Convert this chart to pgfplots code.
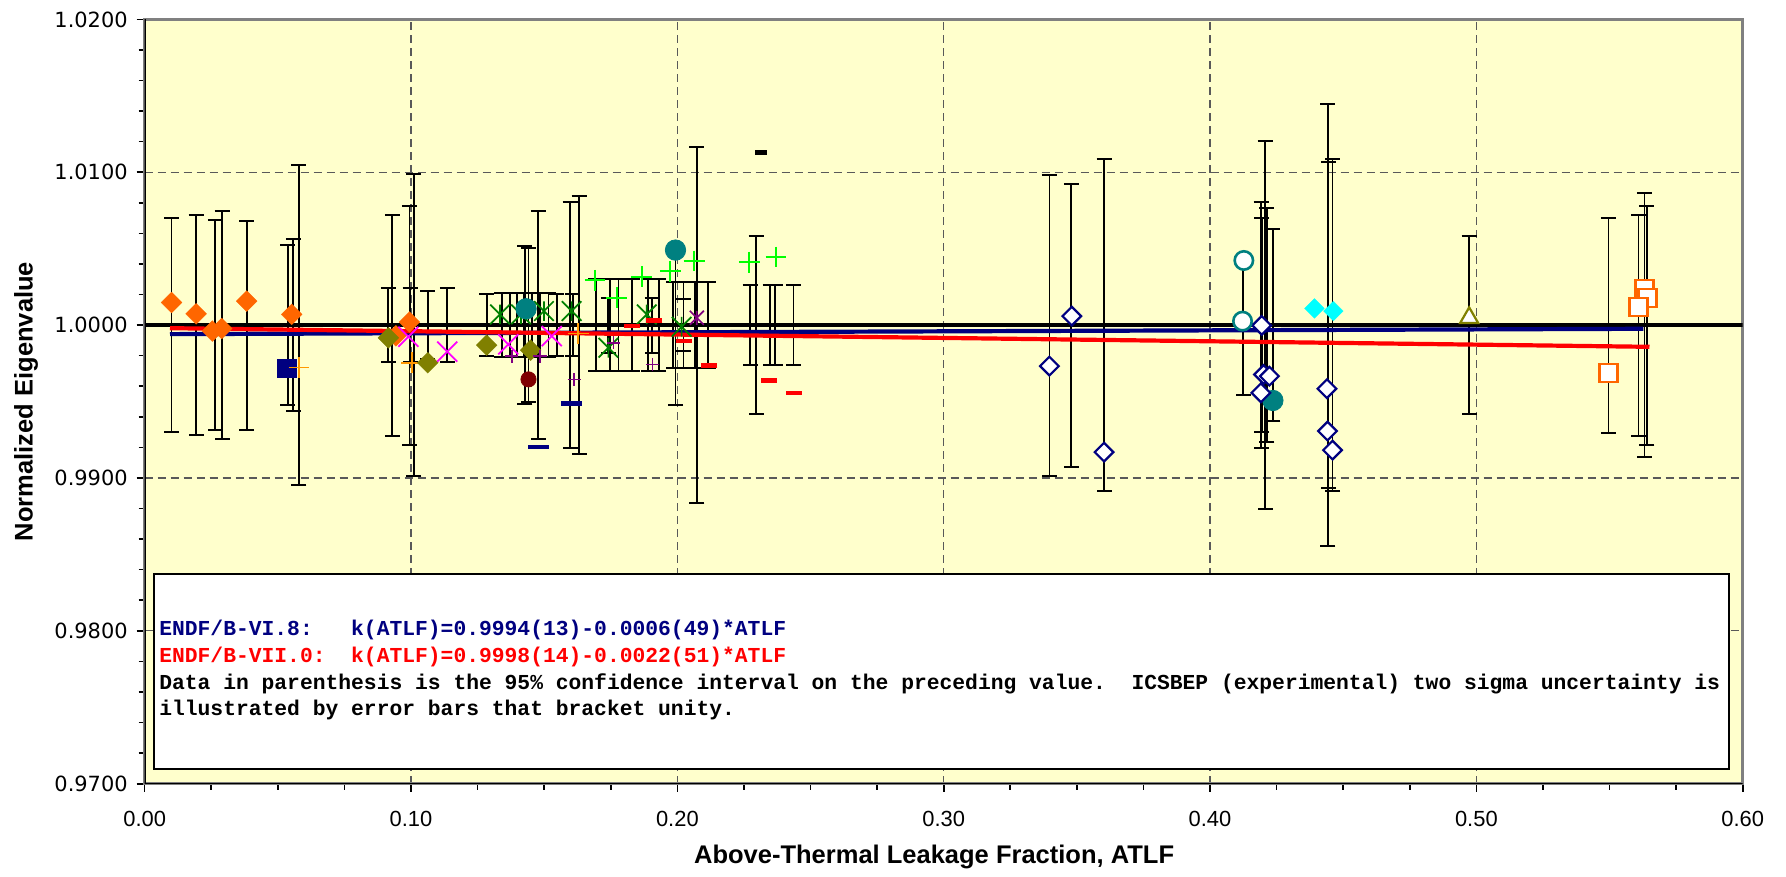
\documentclass[border=0pt]{standalone}
\usepackage{pgfplots}
\pgfplotsset{compat=1.18}
\usepackage{pgfplotstable}
\usepackage{fontspec}
\setmainfont{Liberation Sans}
\newfontfamily\dejavu{DejaVu Sans}
\newfontfamily\mono{Liberation Mono}

\definecolor{bgy}{RGB}{255,255,204}
\definecolor{navyc}{RGB}{0,0,128}
\definecolor{orangeA}{RGB}{255,102,0}
\definecolor{orangeB}{RGB}{255,153,0}
\definecolor{oliveC}{RGB}{128,128,0}
\definecolor{tealC}{RGB}{0,128,128}
\definecolor{maroonC}{RGB}{128,0,0}
\definecolor{greenC}{RGB}{0,128,0}
\definecolor{purpleC}{RGB}{128,0,128}
\definecolor{limeC}{RGB}{0,255,0}
\definecolor{cyanC}{RGB}{0,255,255}
\definecolor{magC}{RGB}{255,0,255}
\definecolor{redC}{RGB}{255,0,0}

\pgfdeclareplotmark{xast}{%
  \pgfpathmoveto{\pgfqpoint{-\pgfplotmarksize}{-\pgfplotmarksize}}%
  \pgfpathlineto{\pgfqpoint{\pgfplotmarksize}{\pgfplotmarksize}}%
  \pgfpathmoveto{\pgfqpoint{-\pgfplotmarksize}{\pgfplotmarksize}}%
  \pgfpathlineto{\pgfqpoint{\pgfplotmarksize}{-\pgfplotmarksize}}%
  \pgfpathmoveto{\pgfqpoint{0pt}{-\pgfplotmarksize}}%
  \pgfpathlineto{\pgfqpoint{0pt}{\pgfplotmarksize}}%
  \pgfusepathqstroke}
\pgfdeclareplotmark{xfull}{%
  \pgfpathmoveto{\pgfqpoint{-\pgfplotmarksize}{-\pgfplotmarksize}}%
  \pgfpathlineto{\pgfqpoint{\pgfplotmarksize}{\pgfplotmarksize}}%
  \pgfpathmoveto{\pgfqpoint{-\pgfplotmarksize}{\pgfplotmarksize}}%
  \pgfpathlineto{\pgfqpoint{\pgfplotmarksize}{-\pgfplotmarksize}}%
  \pgfusepathqstroke}

\pgfplotstableread{
x y e
0.0101 1 0.00700
0.0193 1 0.00722
0.0265 1 0.00685
0.0291 1 0.00745
0.0383 1 0.00684
0.0537 1 0.00523
0.0558 1 0.00564
0.0579 1 0.01045
0.0915 1 0.00240
0.0930 1 0.00723
0.0994 1 0.00782
0.0997 1 0.00240
0.1011 1 0.00987
0.1063 1 0.00220
0.1136 1 0.00240
0.1284 1 0.00204
0.1341 1 0.00210
0.1372 1 0.00210
0.1397 1 0.00210
0.1422 1 0.00210
0.1427 1 0.00515
0.1441 1 0.00502
0.1453 1 0.00210
0.1478 1 0.00745
0.1484 1 0.00210
0.1516 1 0.00210
0.1547 1 0.00204
0.1597 1 0.00806
0.1607 1 0.00204
0.1631 1 0.00842
0.1693 1 0.00300
0.1741 1 0.00180
0.1748 1 0.00300
0.1779 1 0.00300
0.1831 1 0.00300
0.1890 1 0.00300
0.1905 1 0.00180
0.1930 1 0.00300
0.1985 1 0.00281
0.1993 1 0.00523
0.2023 1 0.00170
0.2023 1 0.00281
0.2066 1 0.00281
0.2073 1 0.01165
0.2116 1 0.00281
0.2273 1 0.00262
0.2296 1 0.00584
0.2348 1 0.00262
0.2367 1 0.00262
0.2436 1 0.00262
0.3397 1 0.00985
0.3479 1 0.00926
0.3602 1 0.01085
0.4125 1 0.00460
0.4192 1 0.00807
0.4194 1 0.00702
0.4207 1 0.01205
0.4213 1 0.00763
0.4236 1 0.00626
0.4442 1 0.01446
0.4445 1 0.01066
0.4460 1 0.01085
0.4973 1 0.00581
0.5496 1 0.00703
0.5609 1 0.00723
0.5631 1 0.00865
0.5640 1 0.00782
}\errtab

\begin{document}
\begin{tikzpicture}
\begin{axis}[
  width=799bp, height=382.15bp, scale only axis,
  xmin=0, xmax=0.6, ymin=0.97, ymax=1.02,
  xtick={0,0.1,0.2,0.3,0.4,0.5,0.6},
  ytick={0.97,0.98,0.99,1.0,1.01,1.02},
  minor x tick num=3, minor y tick num=4,
  tick align=outside, tick pos=left,
  major tick length=4bp, minor tick length=3bp,
  every tick/.style={black, line width=0.8bp},
  /pgf/number format/assume math mode=true,
  xticklabel style={font=\fontsize{11}{13}\selectfont, yshift=-6bp,
    /pgf/number format/.cd, fixed, fixed zerofill, precision=2},
  yticklabel style={font=\dejavu\fontsize{10.5}{12}\selectfont, xshift=-1bp,
    /pgf/number format/.cd, fixed, fixed zerofill, precision=4},
  grid=major,
  major grid style={dash pattern=on 4bp off 2.5bp, black!65, line width=0.6bp},
  axis background/.style={fill=bgy},
  axis line style={draw=black!50, line width=1.3bp},
  xlabel={Above-Thermal Leakage Fraction, ATLF},
  ylabel={Normalized Eigenvalue},
  xlabel style={font=\bfseries\fontsize{12.8}{14}\selectfont, at={(axis description cs:0.494,-0.0953)}, anchor=center},
  ylabel style={font=\bfseries\fontsize{12.8}{14}\selectfont, at={(axis description cs:-0.0743,0.5)}, anchor=center},
]
% error bars bracketing unity
\addplot[draw=none, mark=none,
  error bars/.cd, y dir=both, y explicit,
  error bar style={draw=black, solid, line width=0.9bp},
  error mark options={rotate=90, draw=black, solid, mark size=3.75bp, line width=1bp}]
  table[x=x, y=y, y error=e] {\errtab};

% reference and fit lines
\addplot[black, line width=2.1bp, no marks] coordinates {(0,1) (0.6,1)};
\addplot[navyc, line width=2.1bp, no marks] coordinates {(0.0095,0.99941) (0.5627,0.99976)};
\addplot[redC, line width=2.1bp, no marks] coordinates {(0.0095,0.99980) (0.5650,0.99858)};

% orange filled diamonds
\addplot[only marks, mark=square*, mark size=3.7bp, color=orangeA, mark options={rotate=45, line width=0.1bp}]
  coordinates {(0.0101,1.00148) (0.0193,1.00074) (0.0254,0.99961) (0.0289,0.99978) (0.0383,1.00157) (0.0552,1.00070) (0.0943,0.99930) (0.0994,1.00020)};
% navy filled square
\addplot[only marks, mark=square*, mark size=4.6bp, color=navyc] coordinates {(0.0534,0.99717)};
% orange plus
\addplot[only marks, mark=+, mark size=5.2bp, color=orangeB, mark options={line width=0.85bp}]
  coordinates {(0.0579,0.99723) (0.1003,0.99754) (0.1628,0.99945)};
% olive filled diamonds
\addplot[only marks, mark=square*, mark size=3.7bp, color=oliveC, mark options={rotate=45, line width=0.1bp}]
  coordinates {(0.0915,0.99917) (0.1063,0.99754) (0.1284,0.99869) (0.1449,0.99836)};
% magenta x
\addplot[only marks, mark=xfull, mark size=5bp, color=magC, mark options={line width=0.9bp}]
  coordinates {(0.0990,0.99924) (0.1136,0.99826) (0.1365,0.99874) (0.1528,0.99928)};
% dark green asterisks
\addplot[only marks, mark=xast, mark size=4.9bp, color=greenC, mark options={line width=0.85bp}]
  coordinates {(0.1334,1.00070) (0.1413,1.00070) (0.1499,1.00092) (0.1603,1.00092) (0.1741,0.99852) (0.1885,1.00070) (0.2016,0.99989)};
% purple small plus
\addplot[only marks, mark=+, mark size=3.3bp, color=purpleC, mark options={line width=0.85bp}]
  coordinates {(0.1378,0.99797) (0.1484,0.99797) (0.1613,0.99645) (0.1760,0.99884) (0.1907,0.99743)};
% purple asterisk
\addplot[only marks, mark=xast, mark size=3.5bp, color=purpleC, mark options={line width=0.85bp}]
  coordinates {(0.2073,1.00048)};
% teal filled circles
\addplot[only marks, mark=*, mark size=5.1bp, color=tealC]
  coordinates {(0.1432,1.00107) (0.1993,1.00491) (0.4236,0.99507)};
% maroon filled circle
\addplot[only marks, mark=*, mark size=3.8bp, color=maroonC] coordinates {(0.1441,0.99645)};
% lime plus
\addplot[only marks, mark=+, mark size=5.2bp, color=limeC, mark options={line width=0.9bp}]
  coordinates {(0.1691,1.00294) (0.1772,1.00179) (0.1866,1.00316) (0.1973,1.00353) (0.2063,1.00419) (0.2270,1.00412) (0.2370,1.00445)};
% navy dashes
\addplot[only marks, mark=-, mark size=5.3bp, color=navyc, mark options={line width=2.2bp}]
  coordinates {(0.1478,0.99202) (0.1601,0.99488)};
% red dashes
\addplot[only marks, mark=-, mark size=4bp, color=redC, mark options={line width=2.2bp}]
  coordinates {(0.1831,0.99993) (0.1914,1.00031) (0.2025,0.99895) (0.2120,0.99736) (0.2344,0.99638) (0.2437,0.99555)};
% black dash
\addplot[only marks, mark=-, mark size=2.9bp, color=black, mark options={line width=2.6bp}]
  coordinates {(0.2314,1.01127)};
% navy open diamonds
\addplot[only marks, mark=square*, mark size=3.3bp, draw=navyc, mark options={rotate=45, fill=white, line width=1.1bp}]
  coordinates {(0.3397,0.99732) (0.3481,1.00059) (0.3602,0.99169) (0.4194,0.99998) (0.4201,0.99677) (0.4223,0.99666) (0.4191,0.99557) (0.4439,0.99584) (0.4441,0.99307) (0.4460,0.99182)};
% teal open circles
\addplot[only marks, mark=*, mark size=4.6bp, draw=tealC, mark options={fill=white, line width=1.3bp}]
  coordinates {(0.4127,1.00423) (0.4122,1.00026)};
% cyan filled diamonds
\addplot[only marks, mark=square*, mark size=3.5bp, color=cyanC, mark options={rotate=45, line width=0.1bp}]
  coordinates {(0.4392,1.00109) (0.4463,1.00092)};
% olive open triangle
\addplot[only marks, mark=triangle*, mark size=5.2bp, draw=oliveC, mark options={fill=white, line width=1.1bp}]
  coordinates {(0.4973,1.00048)};
% orange open squares
\addplot[only marks, mark=square*, mark size=4.5bp, draw=orangeA, mark options={fill=white, line width=1.2bp}]
  coordinates {(0.5496,0.99688) (0.5631,1.00238) (0.5642,1.00179) (0.5609,1.00120)};

% text box
\draw[black, line width=1bp, fill=white] (rel axis cs:0.0061,0.2746) rectangle (rel axis cs:0.9914,0.0188);
\begin{scope}[every node/.style={anchor=west, inner sep=0pt, font=\mono\bfseries\fontsize{10.7}{12}\selectfont\frenchspacing}]
\node[text=navyc] at (rel axis cs:0.0089,0.2007) {ENDF/B-VI.8:~~~k(ATLF)=0.9994(13)-0.0006(49)*ATLF};
\node[text=redC] at (rel axis cs:0.0089,0.1654) {ENDF/B-VII.0:~~k(ATLF)=0.9998(14)-0.0022(51)*ATLF};
\node[text=black] at (rel axis cs:0.0089,0.1300) {Data in parenthesis is the 95\% confidence interval on the preceding value.~~ICSBEP (experimental) two sigma uncertainty is};
\node[text=black] at (rel axis cs:0.0089,0.0964) {illustrated by error bars that bracket unity.};
\end{scope}
% black left and bottom axis lines
\draw[black, line width=1bp] (rel axis cs:0,1) -- (rel axis cs:0,0) -- (rel axis cs:1,0);
\end{axis}
\pgfresetboundingbox
\path ([xshift=-72.35bp,yshift=-46.65bp]current axis.south west) rectangle ([xshift=21.65bp,yshift=9.7bp]current axis.north east);
\end{tikzpicture}
\end{document}
